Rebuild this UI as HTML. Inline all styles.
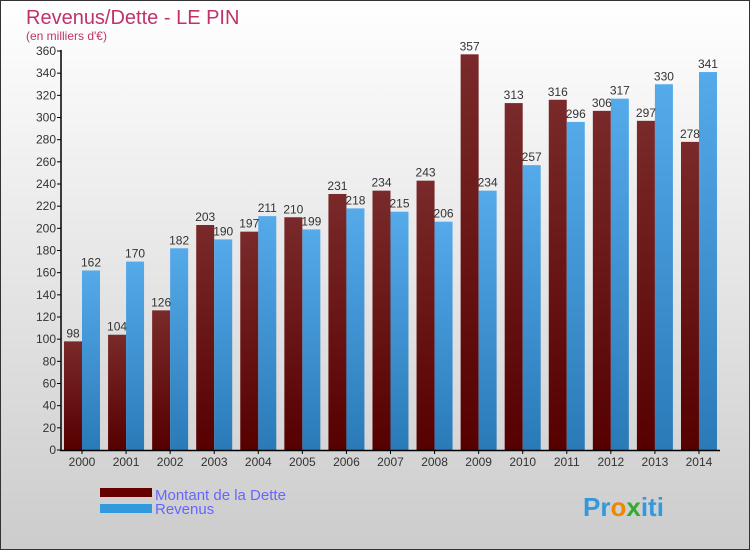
<!DOCTYPE html>
<html><head><meta charset="utf-8"><style>
body{margin:0;width:750px;height:550px;overflow:hidden}
svg{display:block;font-family:"Liberation Sans",sans-serif}
</style></head><body>
<svg id="c" width="750" height="550">
<defs>
<linearGradient id="bg" x1="0" y1="0" x2="0" y2="1"><stop offset="0" stop-color="#ffffff"/><stop offset="1" stop-color="#cccccc"/></linearGradient>
<linearGradient id="gd" x1="0" y1="0" x2="0" y2="1"><stop offset="0" stop-color="#7a2a2a"/><stop offset="1" stop-color="#560000"/></linearGradient>
<linearGradient id="gr" x1="0" y1="0" x2="0" y2="1"><stop offset="0" stop-color="#55aaea"/><stop offset="1" stop-color="#2a7ab8"/></linearGradient>
</defs>
<rect x="0.5" y="0.5" width="749" height="549" fill="url(#bg)" stroke="#333"/>
<text x="26" y="24" font-size="20" fill="#c0336a">Revenus/Dette - LE PIN</text>
<text x="26" y="40" font-size="12" fill="#c0336a">(en milliers d'€)</text>
<g id="plot"></g>
<rect x="100" y="488" width="52" height="9" fill="#660000"/>
<rect x="100" y="504" width="52" height="9" fill="#3399dd"/>
<text x="155" y="500" font-size="15" fill="#6666ff">Montant de la Dette</text>
<text x="155" y="514" font-size="15" fill="#6666ff">Revenus</text>
<text x="583" y="516" font-size="26" font-weight="bold" fill="#3399dd">Pr<tspan fill="#ee8800">o</tspan><tspan fill="#33aa33">x</tspan>iti</text>
</svg>
<script>
const years=["2000","2001","2002","2003","2004","2005","2006","2007","2008","2009","2010","2011","2012","2013","2014"];
const dette=[98,104,126,203,197,210,231,234,243,357,313,316,306,297,278];
const revenus=[162,170,182,190,211,199,218,215,206,234,257,296,317,330,341];
const ticks=[0,20,40,60,80,100,120,140,160,180,200,220,240,260,280,300,320,340,360];
const NS="http://www.w3.org/2000/svg";
const g=document.getElementById('plot');
const y=v=>450-v*(399/360);
const xc=i=>82+i*44.07;
function mk(t,a,txt){const e=document.createElementNS(NS,t);for(const k in a)e.setAttribute(k,a[k]);if(txt!=null)e.textContent=txt;g.appendChild(e);return e;}
ticks.forEach(t=>{
 const l=mk('line',{x1:57,x2:61,y1:y(t),y2:y(t),stroke:'#000'});
 
 
 const tx=mk('text',{x:56,y:y(t)+4,'font-size':12,'text-anchor':'end',fill:'#333'},t);
 
 
});
years.forEach((yr,i)=>{
 const c=xc(i);
 const b1=mk('rect',{x:c-18,y:y(dette[i]),width:18,height:450-y(dette[i]),fill:'url(#gd)'});
 
 
 const b2=mk('rect',{x:c,y:y(revenus[i]),width:18,height:450-y(revenus[i]),fill:'url(#gr)'});
 
 
 const l1=mk('text',{x:c-9,y:y(dette[i])-4,'font-size':12,'text-anchor':'middle',fill:'#333'},dette[i]);
 
 
 const l2=mk('text',{x:c+9,y:y(revenus[i])-4,'font-size':12,'text-anchor':'middle',fill:'#333'},revenus[i]);
 
 
 const tk=mk('line',{x1:c,x2:c,y1:450,y2:454,stroke:'#000'});
 
 
 const xl=mk('text',{x:c,y:466,'font-size':12,'text-anchor':'middle',fill:'#333'},yr);
 
 
});
const ya=mk('line',{x1:61,x2:61,y1:50,y2:451,stroke:'#000','stroke-width':1.5});


const xa=mk('line',{x1:60,x2:720,y1:450.5,y2:450.5,stroke:'#000','stroke-width':1.5});


</script>
</body></html>
